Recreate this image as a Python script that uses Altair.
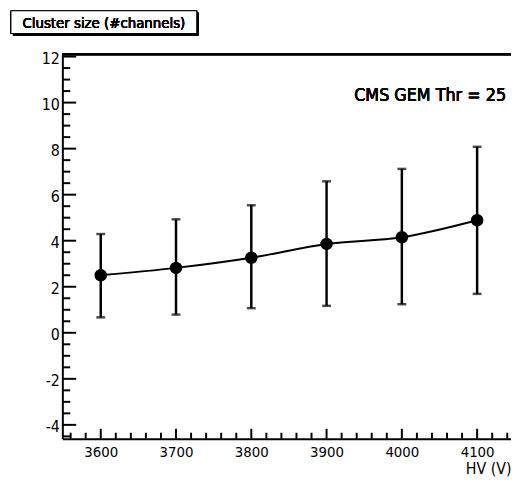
import altair as alt
import pandas as pd

# Data
hv = [3600, 3700, 3800, 3900, 4000, 4100]
cluster = [2.50, 2.82, 3.26, 3.86, 4.15, 4.89]
err_lo = [0.67, 0.79, 1.07, 1.17, 1.24, 1.69]
err_hi = [4.29, 4.93, 5.54, 6.58, 7.12, 8.08]

x_major = [3600, 3700, 3800, 3900, 4000, 4100]
x_minor = [v for v in range(3560, 4150, 20) if v % 100 != 0]
y_major = [-4, -2, 0, 2, 4, 6, 8, 10, 12]
y_minor = [v / 2 for v in range(-9, 24) if v % 4 != 0]

X_DOMAIN = [3549, 4145]
Y_DOMAIN = [-4.6, 12.1]
W, H = 454, 389
FONT = "DejaVu Sans Condensed"

df = pd.DataFrame({"hv": hv, "cs": cluster, "lo": err_lo, "hi": err_hi})
xt_maj = pd.DataFrame({"v": x_major})
xt_min = pd.DataFrame({"v": x_minor})
yt_maj = pd.DataFrame({"v": y_major})
yt_min = pd.DataFrame({"v": y_minor})

xs = alt.Scale(domain=X_DOMAIN, nice=False, zero=False)
ys = alt.Scale(domain=Y_DOMAIN, nice=False, zero=False)

x_axis = alt.Axis(values=x_major, ticks=False, grid=False, domainColor="black",
                  domainWidth=2, labelFont=FONT, labelFontSize=15, labelFontWeight="normal",
                  labelColor="black", labelPadding=6, labelExpr="datum.value + ''",
                  title="HV (V)", titleFont=FONT, titleFontSize=16,
                  titleFontWeight="normal", titleColor="black", titleAnchor="end",
                  titleAlign="right", titleX=W, titleY=30, titleBaseline="middle",
                  labelFlush=False)
y_axis = alt.Axis(values=y_major, ticks=False, grid=False, domainColor="black",
                  domainWidth=2, labelFont=FONT, labelFontSize=16, labelFontWeight="normal",
                  labelColor="black", labelPadding=3, title=None, labelOffset=2,
                  labelExpr="datum.value + ''")

base = alt.Chart(df)

line = base.mark_line(color="black", strokeWidth=2, interpolate="monotone").encode(
    x=alt.X("hv:Q", scale=xs, axis=x_axis),
    y=alt.Y("cs:Q", scale=ys, axis=y_axis),
)
bars = base.mark_rule(color="black", strokeWidth=2.5).encode(
    x=alt.X("hv:Q", scale=xs), y=alt.Y("lo:Q", scale=ys), y2="hi:Q"
)
cap_lo = base.mark_tick(color="black", orient="horizontal", size=9, thickness=2.5).encode(
    x=alt.X("hv:Q", scale=xs), y=alt.Y("lo:Q", scale=ys)
)
cap_hi = base.mark_tick(color="black", orient="horizontal", size=9, thickness=2.5).encode(
    x=alt.X("hv:Q", scale=xs), y=alt.Y("hi:Q", scale=ys)
)
pts = base.mark_circle(color="black", opacity=1, size=160).encode(
    x=alt.X("hv:Q", scale=xs), y=alt.Y("cs:Q", scale=ys)
)

# inward tick marks
ytm = alt.Chart(yt_maj).mark_rule(color="black", strokeWidth=2).encode(
    y=alt.Y("v:Q", scale=ys), x=alt.value(0), x2=alt.value(14))
ytn = alt.Chart(yt_min).mark_rule(color="black", strokeWidth=2).encode(
    y=alt.Y("v:Q", scale=ys), x=alt.value(0), x2=alt.value(8))
xtm = alt.Chart(xt_maj).mark_rule(color="black", strokeWidth=2).encode(
    x=alt.X("v:Q", scale=xs), y=alt.value(H), y2=alt.value(H - 10))
xtn = alt.Chart(xt_min).mark_rule(color="black", strokeWidth=2).encode(
    x=alt.X("v:Q", scale=xs), y=alt.value(H), y2=alt.value(H - 6))

top_line = alt.Chart(df).mark_rule(color="black", strokeWidth=2).encode(
    x=alt.value(0), x2=alt.value(W), y=alt.value(0))

label = alt.Chart(df).mark_text(text="CMS GEM Thr = 25", font=FONT, fontSize=18,
                                fontWeight="normal", color="black", align="right",
                                baseline="middle").encode(
    x=alt.value(449), y=alt.value(42))

# title box with shadow
shadow = alt.Chart(df).mark_rect(color="black").encode(
    x=alt.value(-50), x2=alt.value(138), y=alt.value(-42), y2=alt.value(-19))
box = alt.Chart(df).mark_rect(fill="white", stroke="black", strokeWidth=1).encode(
    x=alt.value(-52), x2=alt.value(136), y=alt.value(-44), y2=alt.value(-21))
title_txt = alt.Chart(df).mark_text(text="Cluster size (#channels)", font=FONT,
                                    fontSize=15, fontWeight="normal", color="black",
                                    align="center", baseline="middle").encode(
    x=alt.value(42), y=alt.value(-32))

chart = alt.layer(
    ytm, ytn, xtm, xtn, top_line, bars, cap_lo, cap_hi, line, pts, label,
    shadow, box, title_txt
).properties(
    width=W, height=H,
    autosize=alt.AutoSizeParams(type="none"),
    padding={"left": 55, "top": 44, "right": 0, "bottom": 39},
    background="white",
).configure_view(stroke=None)

chart.save("out.html", embed_options={"renderer": "svg", "actions": False})
